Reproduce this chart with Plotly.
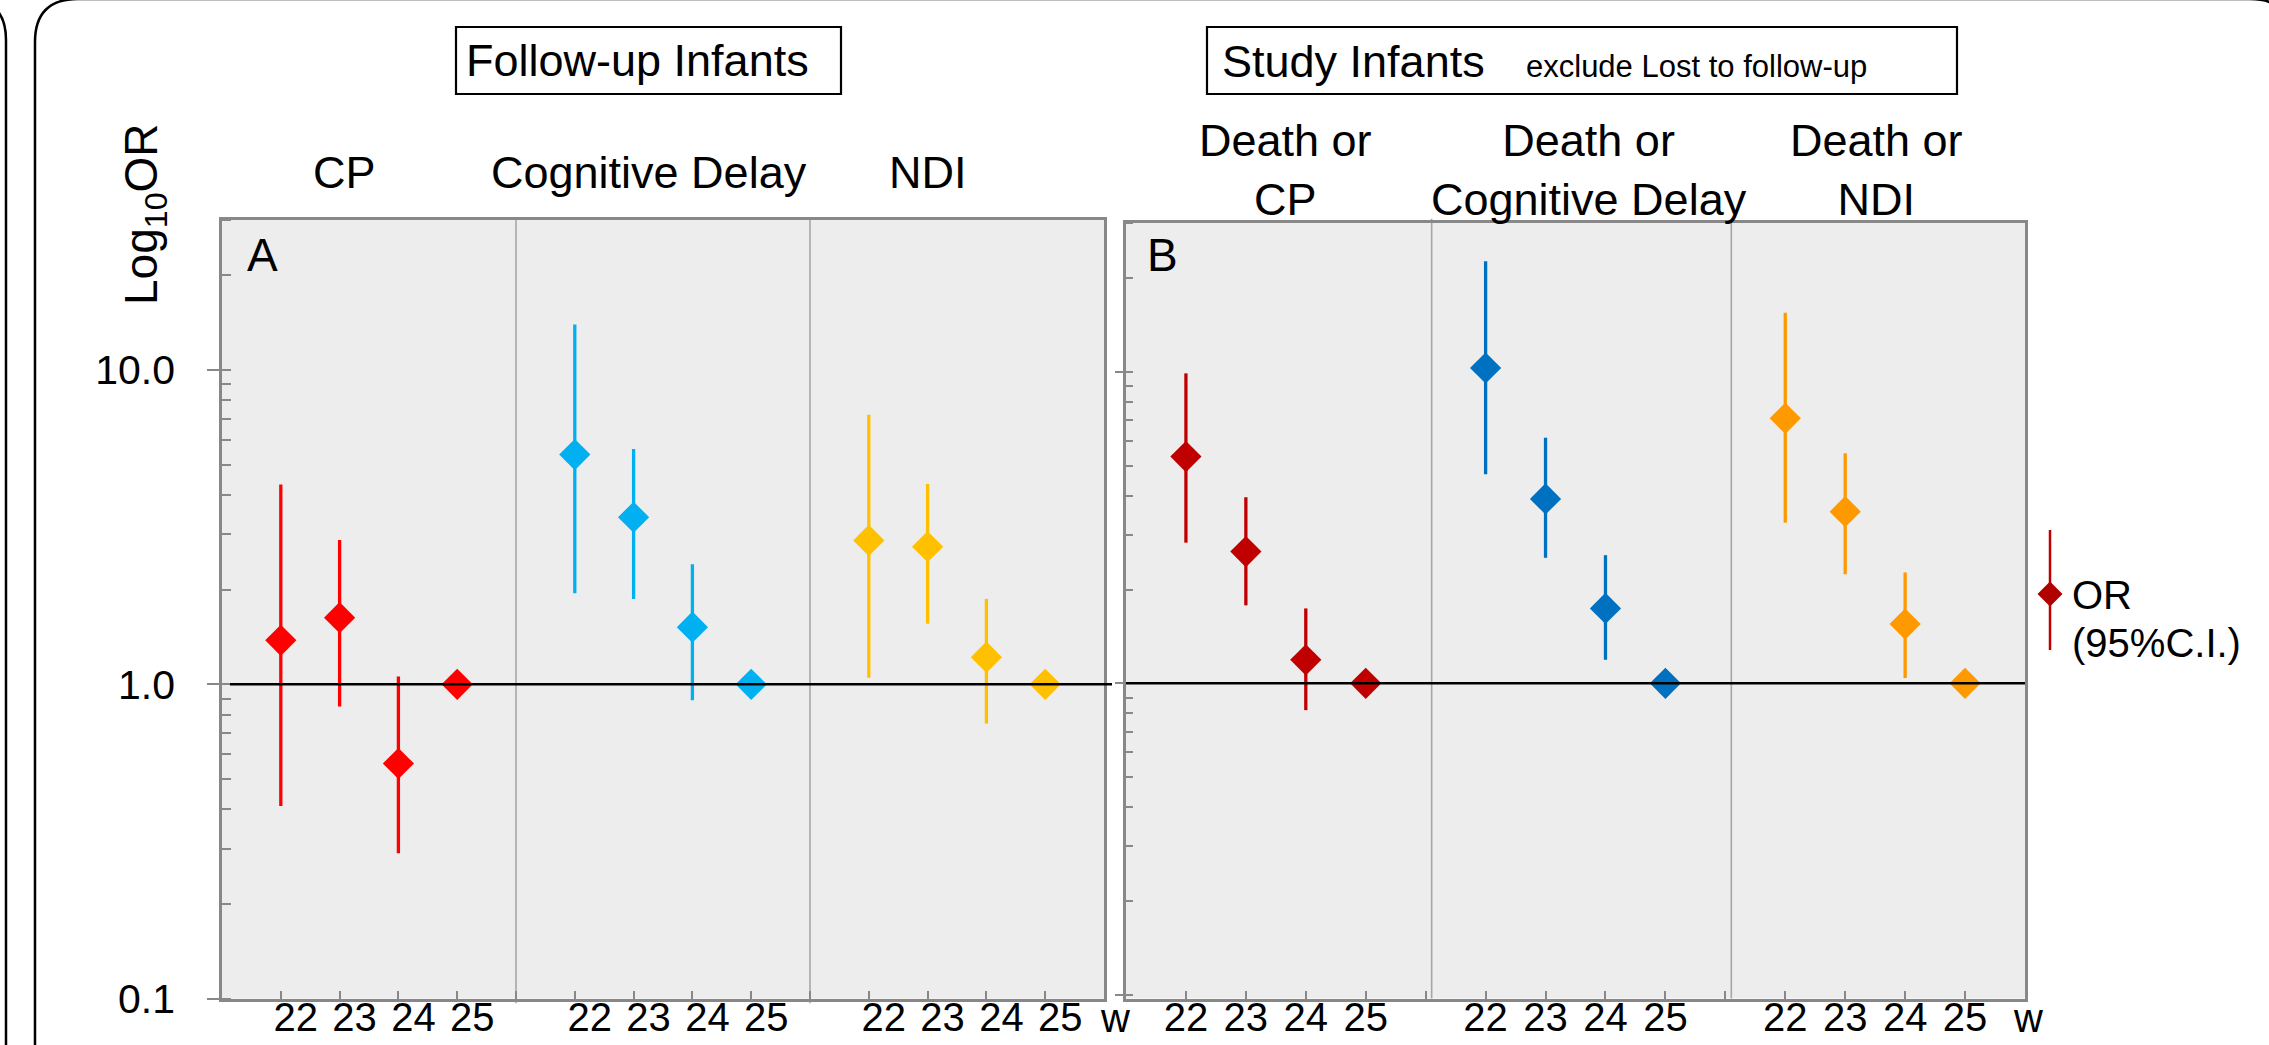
import math
import plotly.graph_objects as go

W, H = 2269, 1045
FONT = "Liberation Sans, Arial, sans-serif"

# ---------------- data ----------------
weeks = ["22", "23", "24", "25"]

panelA_outcomes = ["CP", "Cognitive Delay", "NDI"]
panelB_outcomes = ["Death or<br>CP", "Death or<br>Cognitive Delay", "Death or<br>NDI"]

# Panel A: follow-up infants (OR, lower CI, upper CI) for 22,23,24,25 weeks
a_cp_or = [1.38, 1.63, 0.56, 1.0]
a_cp_lo = [0.41, 0.85, 0.29, 1.0]
a_cp_hi = [4.32, 2.88, 1.06, 1.0]

a_cog_or = [5.38, 3.40, 1.52, 1.0]
a_cog_lo = [1.95, 1.87, 0.89, 1.0]
a_cog_hi = [13.96, 5.61, 2.41, 1.0]

a_ndi_or = [2.87, 2.74, 1.22, 1.0]
a_ndi_lo = [1.05, 1.56, 0.75, 1.0]
a_ndi_hi = [7.20, 4.34, 1.87, 1.0]

# Panel B: study infants excluding lost to follow-up
b_cp_or = [5.35, 2.65, 1.19, 1.0]
b_cp_lo = [2.83, 1.78, 0.82, 1.0]
b_cp_hi = [9.90, 3.96, 1.74, 1.0]

b_cog_or = [10.3, 3.91, 1.74, 1.0]
b_cog_lo = [4.69, 2.53, 1.19, 1.0]
b_cog_hi = [22.7, 6.15, 2.58, 1.0]

b_ndi_or = [7.10, 3.56, 1.55, 1.0]
b_ndi_lo = [3.28, 2.24, 1.04, 1.0]
b_ndi_hi = [15.5, 5.48, 2.27, 1.0]

colorsA = ["#ff0000", "#00b0f0", "#ffc000"]
colorsB = ["#c00000", "#0070c0", "#ff9900"]

seriesA = [(a_cp_or, a_cp_lo, a_cp_hi), (a_cog_or, a_cog_lo, a_cog_hi), (a_ndi_or, a_ndi_lo, a_ndi_hi)]
seriesB = [(b_cp_or, b_cp_lo, b_cp_hi), (b_cog_or, b_cog_lo, b_cog_hi), (b_ndi_or, b_ndi_lo, b_ndi_hi)]

# ---------------- helpers ----------------
def px(x):
    return x / W

def py(y):
    return 1 - y / H

def P(x, y):
    return f"{px(x):.6f},{py(y):.6f}"

GRAY = "#888888"

fig = go.Figure()

def slot(g, i):
    return g * 5 + i + 1

for panel, (series, colors) in enumerate([(seriesA, colorsA), (seriesB, colorsB)]):
    xa = "x" if panel == 0 else "x2"
    ya = "y" if panel == 0 else "y2"
    for g, ((orv, lo, hi), col) in enumerate(zip(series, colors)):
        xs = [slot(g, i) for i in range(len(weeks))]
        fig.add_trace(go.Scatter(
            x=xs, y=orv, mode="markers", xaxis=xa, yaxis=ya,
            marker=dict(symbol="diamond", size=24, color=col, line=dict(width=0)),
            error_y=dict(type="data", symmetric=False,
                         array=[h - o for h, o in zip(hi, orv)],
                         arrayminus=[o - l for o, l in zip(orv, lo)],
                         color=col, thickness=3.3, width=0),
            showlegend=False, hoverinfo="skip", cliponaxis=False,
        ))

tickvals = [slot(g, i) for g in range(3) for i in range(len(weeks))]
ticktext = [weeks[i] for g in range(3) for i in range(len(weeks))]
group_edges = [5, 10]

common_x = dict(range=[0, 15], tickmode="array", tickvals=tickvals, ticktext=ticktext,
                ticks="inside", ticklen=8, tickwidth=2, tickcolor=GRAY,
                showline=True, mirror=True, linecolor=GRAY, linewidth=2.5,
                showgrid=False, zeroline=False, ticklabelstandoff=-18,
                tickfont=dict(family=FONT, size=40, color="black"),
                minor=dict(tickmode="array", tickvals=group_edges, ticks="inside",
                           ticklen=8, tickwidth=2, tickcolor=GRAY, showgrid=False))

fig.update_layout(
    width=W, height=H, template="none",
    margin=dict(l=0, r=0, t=0, b=0, pad=0),
    paper_bgcolor="white", plot_bgcolor="#ededed",
    showlegend=False,
    font=dict(family=FONT, color="black"),
    xaxis=dict(domain=[px(222), px(1104)], anchor="y", ticklabelshift=15, **common_x),
    xaxis2=dict(domain=[px(1126), px(2025)], anchor="y2", **common_x),
    yaxis=dict(domain=[py(998.7), py(220)], anchor="x", type="log",
               range=[-1, math.log10(30)], dtick=1, tickformat=".1f",
               ticks="outside", ticklen=12, tickwidth=2, tickcolor=GRAY,
               showline=True, mirror=True, linecolor=GRAY, linewidth=2.5,
               showgrid=False, zeroline=False, ticklabelstandoff=24,
               tickfont=dict(family=FONT, size=41, color="black"),
               minor=dict(ticks="inside", ticklen=9, tickwidth=2, tickcolor=GRAY,
                          dtick="D1", showgrid=False)),
    yaxis2=dict(domain=[py(998.5), py(222.7)], anchor="x2", type="log",
                range=[-1.0125, 1.4796], dtick=1, showticklabels=False,
                ticks="outside", ticklen=8, tickwidth=2, tickcolor=GRAY,
                showline=True, mirror=True, linecolor=GRAY, linewidth=2.5,
                showgrid=False, zeroline=False,
                minor=dict(ticks="inside", ticklen=7, tickwidth=2, tickcolor=GRAY,
                           dtick="D1", showgrid=False)),
)

shapes = []
# group dividers
for xv in group_edges:
    shapes.append(dict(type="line", xref="x", yref="y domain", x0=xv, x1=xv, y0=-0.006, y1=1,
                       line=dict(color="#a6a6a6", width=1.6), layer="below"))
for xv in group_edges:
    shapes.append(dict(type="line", xref="x2", yref="y2 domain", x0=xv + 0.1, x1=xv + 0.1, y0=0, y1=1.005,
                       line=dict(color="#a6a6a6", width=1.6), layer="below"))
# OR = 1 reference lines
shapes.append(dict(type="line", xref="paper", yref="y", x0=px(230), x1=px(1112), y0=1, y1=1,
                   line=dict(color="black", width=2.5), layer="above"))
shapes.append(dict(type="line", xref="paper", yref="y2", x0=px(1126), x1=px(2025), y0=1, y1=1,
                   line=dict(color="black", width=2.5), layer="above"))
# header boxes
shapes.append(dict(type="rect", xref="paper", yref="paper", x0=px(456), x1=px(841), y0=py(94), y1=py(27),
                   line=dict(color="black", width=2.2), fillcolor="white"))
shapes.append(dict(type="rect", xref="paper", yref="paper", x0=px(1207), x1=px(1957), y0=py(94), y1=py(27),
                   line=dict(color="black", width=2.2), fillcolor="white"))
# legend glyph
shapes.append(dict(type="line", xref="paper", yref="paper", x0=px(2050), x1=px(2050), y0=py(650), y1=py(530),
                   line=dict(color="#c00000", width=2.5)))
d = 12.5
shapes.append(dict(type="path", xref="paper", yref="paper",
                   path=f"M {P(2050-d, 594)} L {P(2050, 594-d)} L {P(2050+d, 594)} L {P(2050, 594+d)} Z",
                   fillcolor="#b00000", line=dict(width=0)))
# outer rounded frames
shapes.append(dict(type="path", xref="paper", yref="paper",
                   path=f"M {P(-34, -1)} Q {P(6, -1)} {P(6, 40)} L {P(6, 1060)}",
                   line=dict(color="black", width=2.5)))
shapes.append(dict(type="path", xref="paper", yref="paper",
                   path=f"M {P(35, 1060)} L {P(35, 42)} Q {P(35, -1)} {P(78, -1)} L {P(2250, -1)} Q {P(2292, -1)} {P(2292, 40)}",
                   line=dict(color="black", width=2.5)))

annotations = []

def ann(text, x, y, size, xanchor="center", yanchor="middle", **kw):
    annotations.append(dict(text=text, x=px(x), y=py(y), xref="paper", yref="paper",
                            xanchor=xanchor, yanchor=yanchor, showarrow=False,
                            font=dict(family=FONT, size=size, color="black"), **kw))

ann("Follow-up Infants", 637, 61, 45)
ann("Study Infants", 1220, 61.4, 45, xanchor="left")
ann("exclude Lost to follow-up", 1524, 66.3, 31, xanchor="left")

for name, xc in zip(panelA_outcomes, [344, 649, 928]):
    ann(name, xc, 172, 45)
for name, xc in zip(panelB_outcomes, [1285, 1589, 1876]):
    ann(name, xc, 170, 45)

ann("A", 262, 255, 46)
ann("B", 1162, 255, 46)
ann("Log<sub>10</sub>OR", 145, 214, 46, textangle=-90)
ann("w", 1115, 1018, 40)
ann("w", 2028, 1018, 40)
ann("OR", 2070, 595, 40, xanchor="left")
ann("(95%C.I.)", 2070, 643, 40, xanchor="left")

fig.update_layout(shapes=shapes, annotations=annotations)

fig.write_html("out.html", config={"displayModeBar": False},
               post_script="document.body.style.margin='0px';document.body.style.overflow='hidden';")
